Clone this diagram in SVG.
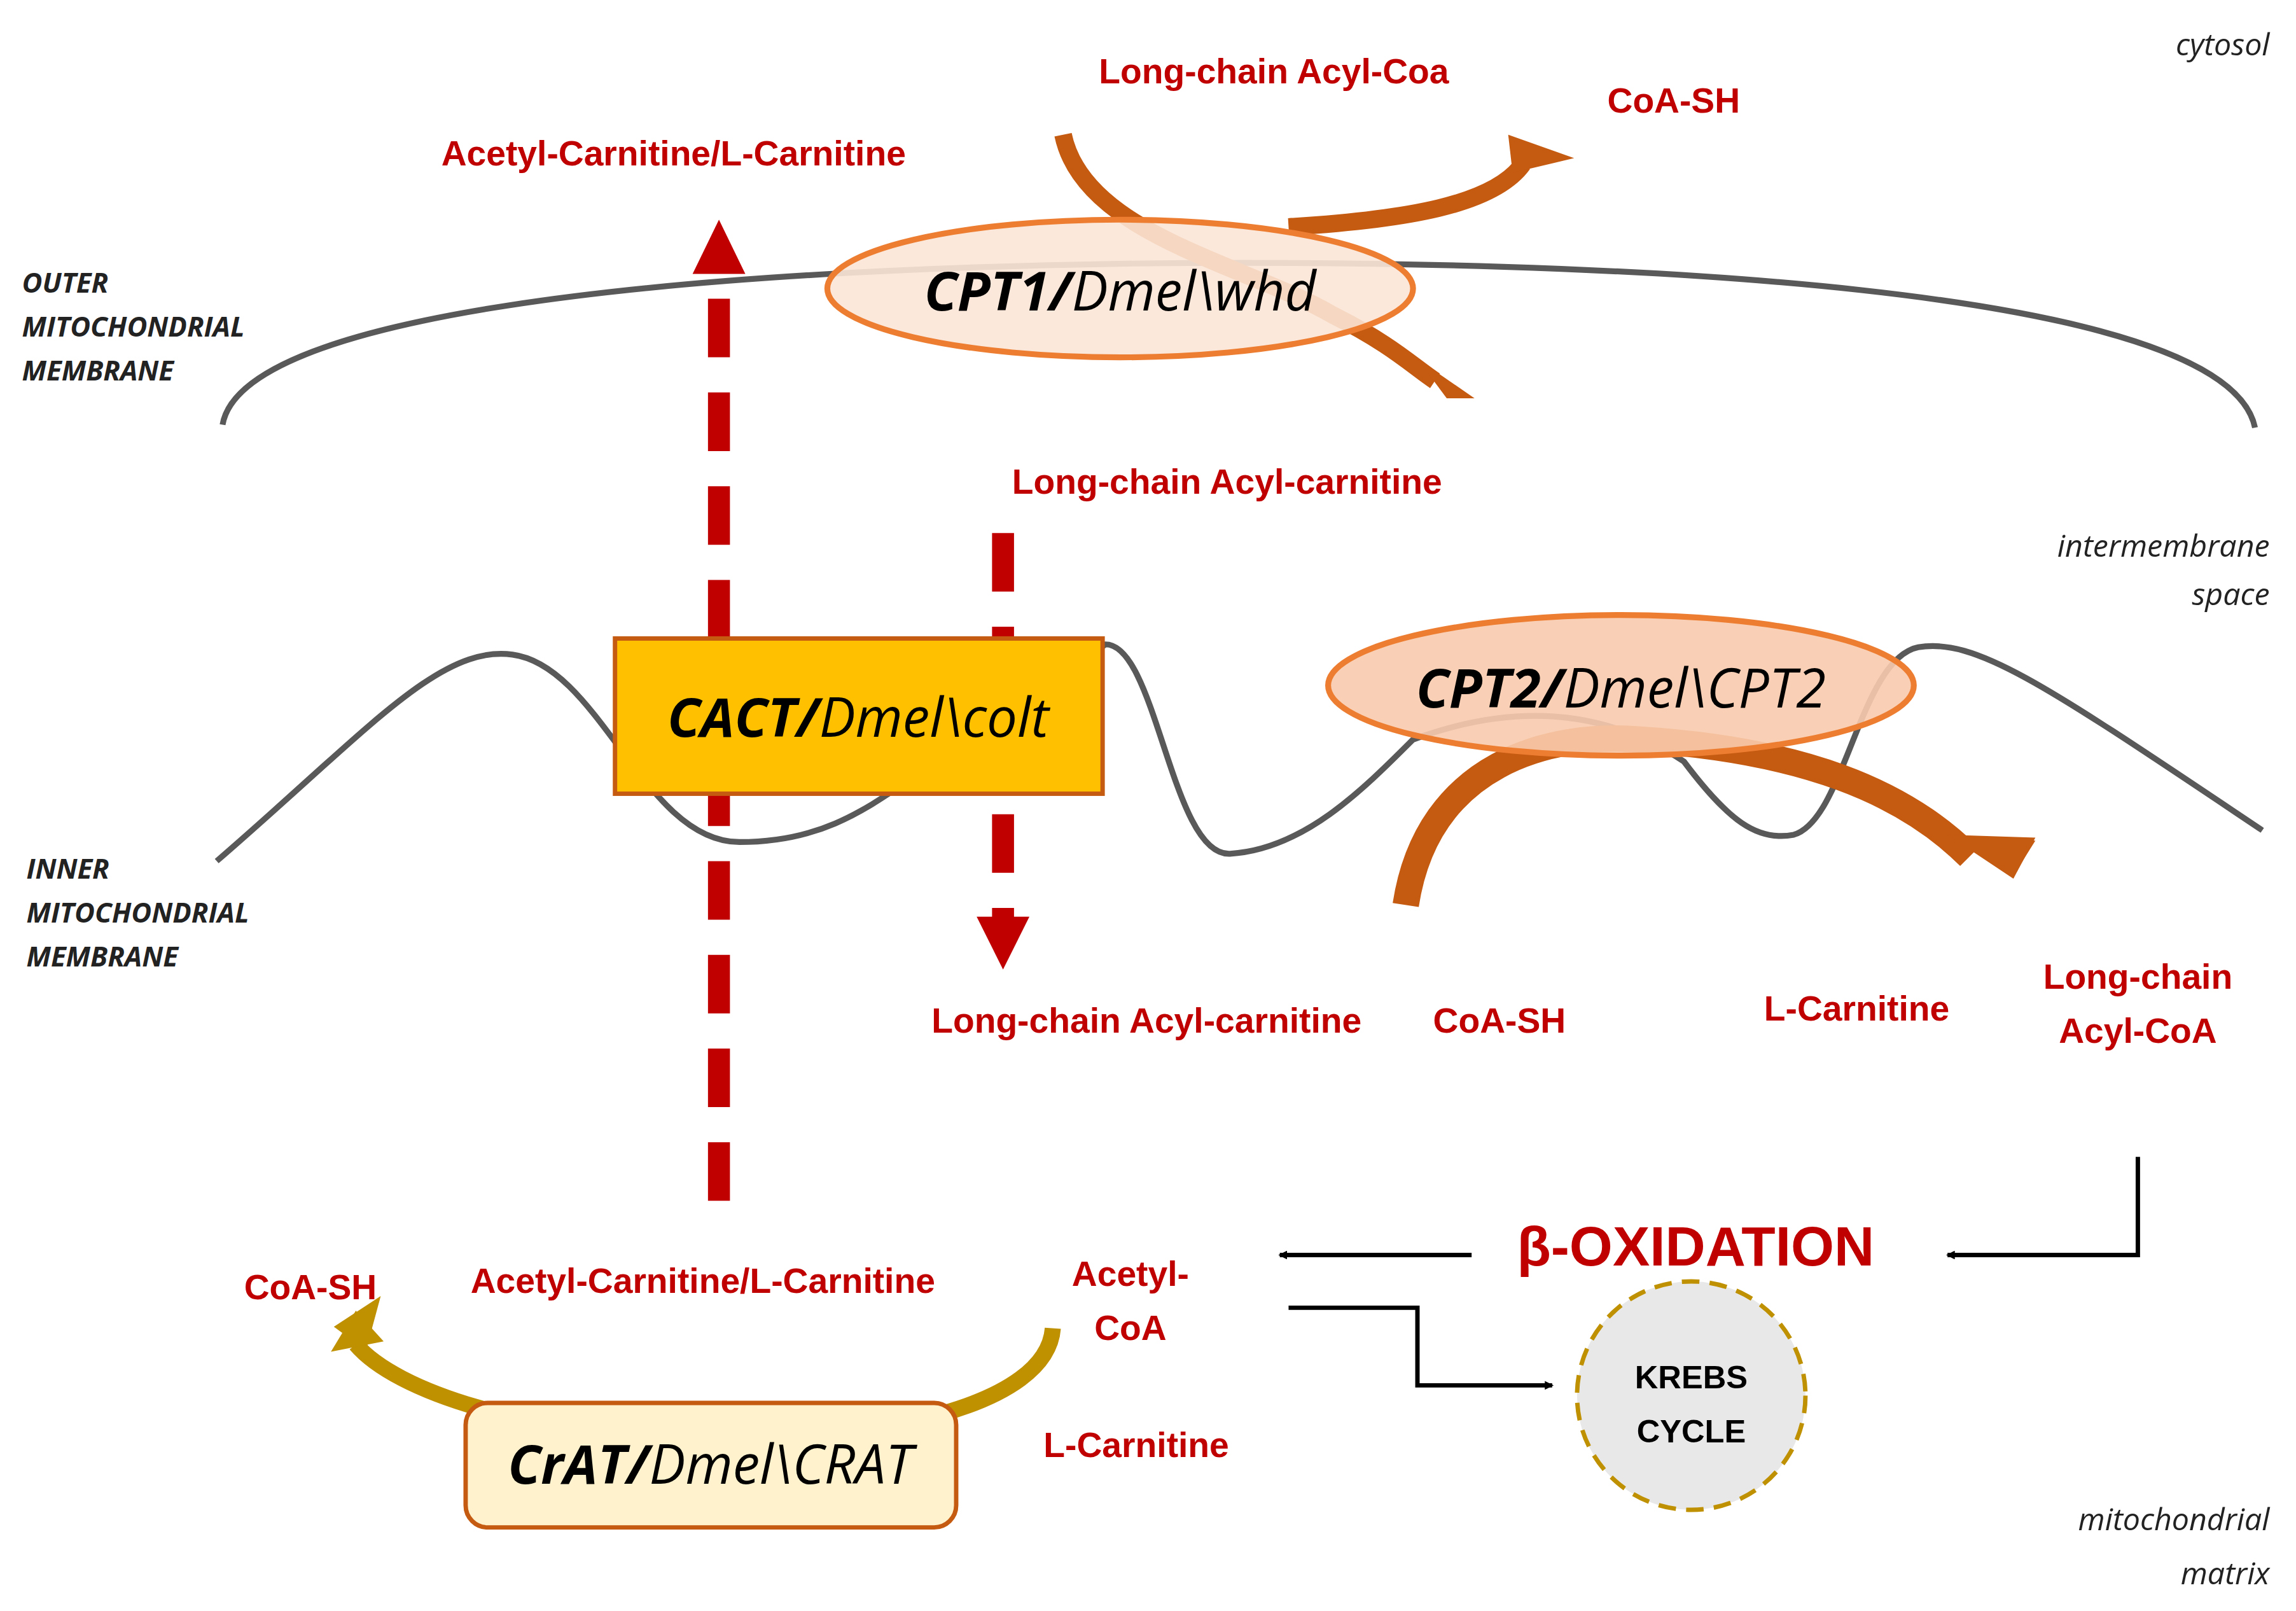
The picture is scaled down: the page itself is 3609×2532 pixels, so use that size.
<svg xmlns="http://www.w3.org/2000/svg" width="3609" height="2532" viewBox="0 0 3609 2532">
<style>
.r{font-family:"Liberation Sans",Arial,sans-serif;font-weight:bold;fill:#c00000;font-size:24px;text-anchor:middle}
.n{font-family:"Open Sans","Liberation Sans",sans-serif;font-style:italic;fill:#222;font-size:21px}
.nb{font-family:"Open Sans","Liberation Sans",sans-serif;font-style:italic;font-weight:bold;fill:#222;font-size:19px}
.e{font-family:"Open Sans","Liberation Sans",sans-serif;font-style:italic;fill:#000;font-size:37px;text-anchor:middle}
.mem{fill:none;stroke:#595959;stroke-width:4}
.dash{stroke:#c00000;stroke-width:15;stroke-dasharray:40 24;fill:none}
.br{fill:none;stroke:#c55a11;stroke-width:12}
.k{fill:none;stroke:#000;stroke-width:3}
</style>
<defs>
<marker id="ah" markerWidth="6" markerHeight="6" refX="5" refY="3" orient="auto" markerUnits="userSpaceOnUse" viewBox="0 0 6 6"><path d="M0,0L6,3L0,6z" fill="#000"/></marker>
</defs>
<rect width="3609" height="2532" fill="#fff"/>
<g transform="scale(2.30166)">
<g id="labels">
<text class="n" x="1550" y="38" text-anchor="end">cytosol</text>
<text class="n" x="1550" y="380" text-anchor="end">intermembrane</text>
<text class="n" x="1550" y="413" text-anchor="end">space</text>
<text class="n" x="1550" y="1045" text-anchor="end">mitochondrial</text>
<text class="n" x="1550" y="1082" text-anchor="end">matrix</text>
<text class="nb" x="15" y="200">OUTER</text>
<text class="nb" x="15" y="230">MITOCHONDRIAL</text>
<text class="nb" x="15" y="260">MEMBRANE</text>
<text class="nb" x="18" y="600">INNER</text>
<text class="nb" x="18" y="630">MITOCHONDRIAL</text>
<text class="nb" x="18" y="660">MEMBRANE</text>
<text class="r" x="870" y="57">Long-chain Acyl-Coa</text>
<text class="r" x="1143" y="77">CoA-SH</text>
<text class="r" x="460" y="113">Acetyl-Carnitine/L-Carnitine</text>
<text class="r" x="838" y="337">Long-chain Acyl-carnitine</text>
<text class="r" x="783" y="705">Long-chain Acyl-carnitine</text>
<text class="r" x="1024" y="705">CoA-SH</text>
<text class="r" x="1268" y="697">L-Carnitine</text>
<text class="r" x="1460" y="675">Long-chain</text>
<text class="r" x="1460" y="712">Acyl-CoA</text>
<text class="r" x="1158" y="864" style="font-size:38px">β-OXIDATION</text>
<text class="r" x="772" y="878">Acetyl-</text>
<text class="r" x="772" y="915">CoA</text>
<text class="r" x="212" y="887">CoA-SH</text>
<text class="r" x="480" y="883">Acetyl-Carnitine/L-Carnitine</text>
<text class="r" x="776" y="995">L-Carnitine</text>
</g>
<g id="membranes">
<path class="mem" d="M152,290 C165,215 450,185 770,180 C1100,176 1520,195 1540,292"/>
<path class="mem" d="M148,588 C250,500 300,440 350,447 C410,455 440,575 505,575 C570,575 600,545 640,520 L755,440 C790,440 800,585 840,583 C890,580 930,540 965,505 C1060,470 1120,500 1150,520 C1180,560 1200,575 1225,570 C1260,560 1270,450 1310,442 C1350,435 1400,470 1545,567"/>
</g>
<g id="connectors">
<path class="dash" d="M491,820 V185"/>
<polygon points="491,150 473,187 509,187" fill="#c00000"/>
<path class="dash" d="M685,364 V628"/>
<polygon points="685,662 667,626 703,626" fill="#c00000"/>
<path class="br" d="M726,92 C740,160 850,180 910,215 C950,235 965,250 980,260" stroke="#a0480f"/>
<polygon points="1007,272 968,245 988,272" fill="#c55a11"/>
<path class="br" d="M880,155 C960,150 1020,140 1040,112"/>
<polygon points="1030,92 1075,108 1033,118" fill="#c55a11"/>
<path d="M960,618 C975,520 1060,500 1120,505 C1230,512 1300,540 1345,585" fill="none" stroke="#c55a11" stroke-width="18"/>
<polygon points="1330,570 1390,574 1375,598" fill="#c55a11"/>
<polygon points="1330,570 1390,572 1375,600" fill="#c55a11"/>
<path d="M719,907 C715,960 600,985 480,982 C360,980 270,950 243,918" fill="none" stroke="#bf9000" stroke-width="11"/>
<polygon points="228,906 260,885 250,922" fill="#bf9000"/>
<polygon points="226,923 243,895 262,916" fill="#bf9000"/>
<path class="k" d="M1460,790 V857 H1330" marker-end="url(#ah)"/>
<path class="k" d="M1005,857 H874" marker-end="url(#ah)"/>
<path class="k" d="M880,893 H968 V946 H1060" marker-end="url(#ah)"/>
</g>
<g id="cpt1">
<ellipse cx="765" cy="197" rx="200" ry="47" fill="#fbe5d6" stroke="#ed7d31" stroke-width="4" fill-opacity="0.9"/>
<text class="e" x="765" y="212"><tspan font-weight="bold">CPT1/</tspan>Dmel\whd</text>
</g>
<g id="cact">
<rect x="420" y="436" width="333" height="106" fill="#ffc000" stroke="#c55a11" stroke-width="3"/>
<text class="e" x="586" y="503"><tspan font-weight="bold">CACT/</tspan>Dmel\colt</text>
</g>
<g id="cpt2">
<ellipse cx="1107" cy="468" rx="200" ry="48" fill="#f8cbad" stroke="#ed7d31" stroke-width="4" fill-opacity="0.9"/>
<text class="e" x="1107" y="483"><tspan font-weight="bold">CPT2/</tspan>Dmel\CPT2</text>
</g>
<g id="crat">
<rect x="318" y="958" width="335" height="85" rx="15" fill="#fff2cc" stroke="#c55a11" stroke-width="3"/>
<text class="e" x="485" y="1013"><tspan font-weight="bold">CrAT/</tspan>Dmel\CRAT</text>
</g>
<g id="krebs">
<circle cx="1155" cy="953" r="78" fill="#e8e8e8" stroke="#bf9000" stroke-width="3" stroke-dasharray="12 7"/>
<text x="1155" y="948" text-anchor="middle" font-family="Liberation Sans,sans-serif" font-weight="bold" font-size="22">KREBS</text>
<text x="1155" y="985" text-anchor="middle" font-family="Liberation Sans,sans-serif" font-weight="bold" font-size="22">CYCLE</text>
</g>
</g>
</svg>
